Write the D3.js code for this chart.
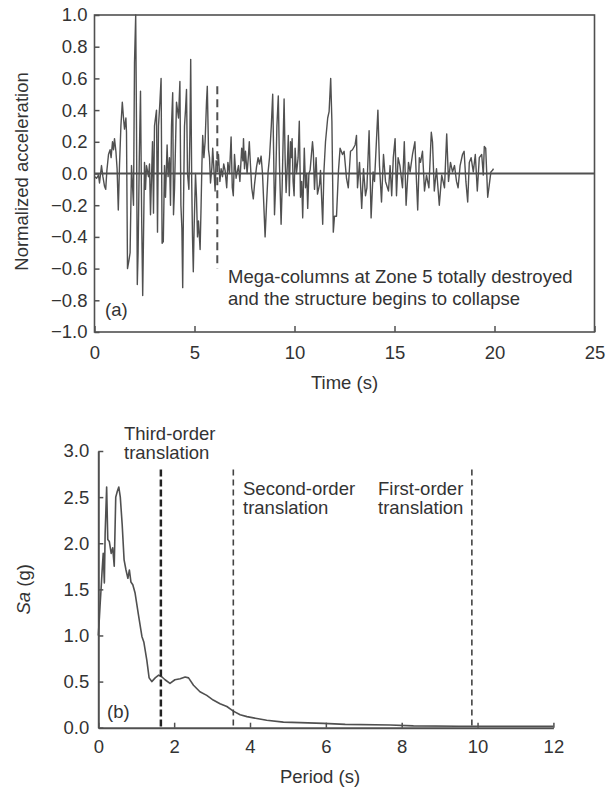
<!DOCTYPE html>
<html lang="en">
<head>
  <meta charset="UTF-8">
  <script src="https://cdn.jsdelivr.net/npm/d3@7"></script>
  <title>Time history and response spectrum</title>
  <style>
    body { margin: 0; background: #fff; }
    text { font-family: "Liberation Sans", Arial, sans-serif; fill: #333; }
  </style>
</head>
<body>
  <svg width="611" height="789"></svg>
  <script>
    // (a) normalized acceleration time history
    var accelT = [0.0,0.1,0.2,0.25,0.35,0.42,0.5,0.56,0.62,0.7,0.78,0.83,0.9,0.95,1.0,1.07,1.13,1.19,1.25,1.32,1.39,1.45,1.5,1.57,1.6,1.65,1.72,1.78,1.85,1.95,2.0,2.06,2.1,2.14,2.18,2.24,2.3,2.36,2.41,2.45,2.5,2.55,2.6,2.7,2.75,2.8,2.9,2.95,3.0,3.1,3.15,3.2,3.27,3.33,3.38,3.44,3.5,3.55,3.63,3.68,3.75,3.8,3.85,3.91,3.95,4.0,4.1,4.2,4.27,4.32,4.37,4.41,4.45,4.5,4.55,4.6,4.65,4.72,4.77,4.81,4.86,4.9,4.94,4.98,5.05,5.1,5.15,5.2,5.28,5.33,5.37,5.41,5.47,5.53,5.6,5.64,5.7,5.75,5.8,5.87,5.91,5.96,6.03,6.08,6.15,6.2,6.27,6.33,6.4,6.46,6.53,6.61,6.67,6.75,6.83,6.89,6.94,7.0,7.08,7.12,7.2,7.27,7.36,7.42,7.45,7.5,7.55,7.63,7.7,7.74,7.8,7.86,7.94,8.0,8.1,8.18,8.25,8.33,8.4,8.45,8.53,8.6,8.68,8.75,8.84,8.91,8.96,9.0,9.05,9.12,9.19,9.25,9.33,9.38,9.43,9.48,9.53,9.58,9.64,9.69,9.74,9.8,9.85,9.88,9.93,9.98,10.03,10.1,10.18,10.24,10.3,10.36,10.41,10.49,10.55,10.61,10.66,10.72,10.78,10.9,10.94,11.0,11.08,11.15,11.25,11.3,11.41,11.47,11.55,11.66,11.73,11.81,11.87,11.94,12.0,12.1,12.2,12.28,12.4,12.48,12.6,12.69,12.8,12.9,13.03,13.1,13.15,13.25,13.36,13.45,13.55,13.62,13.73,13.83,13.93,14.0,14.17,14.25,14.35,14.45,14.55,14.7,14.78,14.86,14.94,15.03,15.1,15.18,15.27,15.4,15.49,15.58,15.7,15.78,15.9,16.02,16.1,16.16,16.24,16.3,16.4,16.5,16.6,16.72,16.84,16.9,16.99,17.1,17.24,17.36,17.5,17.61,17.7,17.8,17.9,18.0,18.1,18.18,18.28,18.4,18.48,18.57,18.66,18.74,18.83,18.94,19.04,19.14,19.24,19.36,19.44,19.49,19.56,19.66,19.74,19.82,19.9,19.95];
    var accelV = [-0.02,-0.03,-0.01,-0.06,0.05,-0.02,-0.08,-0.1,0.02,0.12,0.15,0.1,0.2,0.15,0.22,0.14,0.03,-0.23,0.05,0.3,0.45,0.35,0.28,0.35,0.26,-0.6,-0.55,-0.5,0.05,-0.2,0.7,1.0,0.3,-0.7,-0.5,0.1,0.52,-0.3,-0.77,-0.4,0.07,-0.1,0.05,-0.02,0.06,-0.26,0.2,-0.25,0.3,0.4,-0.37,0.3,0.45,0.6,-0.44,-0.43,0.05,-0.15,0.18,-0.02,0.1,-0.2,0.3,0.51,-0.26,-0.1,0.45,0.35,0.58,-0.2,-0.35,-0.72,-0.2,0.3,0.4,0.53,0.0,-0.1,0.25,0.72,-0.05,-0.4,-0.62,-0.35,0.0,-0.15,-0.4,-0.3,-0.48,-0.2,0.05,0.24,0.1,0.2,0.45,0.55,0.15,0.1,-0.06,0.04,0.16,0.05,-0.11,0.08,0.05,0.12,-0.05,0.03,-0.02,0.06,0.02,-0.09,0.07,0.0,0.23,-0.09,-0.14,0.12,-0.03,0.0,0.05,-0.05,0.16,0.08,0.22,0.03,0.14,0.0,0.12,0.2,0.05,-0.09,-0.16,-0.07,0.04,0.1,0.06,0.11,0.0,-0.15,-0.4,-0.2,0.01,0.1,0.3,0.5,0.1,-0.26,-0.1,0.3,0.49,0.05,-0.32,-0.1,0.2,0.47,0.1,-0.12,0.05,0.24,-0.14,0.2,0.1,0.22,-0.05,-0.14,0.16,0.0,0.1,0.33,-0.15,-0.05,-0.28,0.16,-0.09,0.0,-0.22,0.0,0.02,0.2,0.14,-0.1,0.1,-0.13,-0.07,0.02,-0.32,0.01,0.2,0.35,0.39,0.6,0.33,-0.37,-0.27,-0.27,0.02,0.16,0.12,0.14,-0.03,-0.09,0.14,0.15,0.18,0.24,-0.09,0.07,-0.22,0.03,-0.14,-0.09,0.27,-0.28,0.01,-0.05,0.4,0.05,-0.18,0.12,-0.05,-0.11,0.05,-0.14,0.1,0.22,-0.14,0.1,0.05,-0.09,0.2,-0.2,0.07,0.01,0.12,0.2,-0.05,-0.23,0.1,0.07,0.14,-0.11,-0.01,-0.09,0.26,0.2,-0.11,0.03,-0.2,-0.01,-0.09,0.25,-0.05,0.07,0.01,0.05,-0.05,-0.09,0.05,0.12,0.14,-0.05,-0.18,0.07,0.1,0.01,0.12,-0.11,0.1,0.12,-0.01,0.17,0.16,-0.15,-0.07,0.01,0.02,0.03];
    var timeTicks = [0, 5, 10, 15, 20, 25];
    var accelTicks = [-1.0, -0.8, -0.6, -0.4, -0.2, 0.0, 0.2, 0.4, 0.6, 0.8, 1.0];
    var collapseTime = 6.14;
    var collapseNote = ["Mega-columns at Zone 5 totally destroyed", "and the structure begins to collapse"];

    // (b) acceleration response spectrum
    var periodT = [0,0.03,0.05,0.08,0.1,0.13,0.16,0.18,0.22,0.25,0.29,0.34,0.38,0.42,0.46,0.5,0.54,0.58,0.63,0.68,0.73,0.78,0.82,0.86,0.91,0.97,1.06,1.15,1.2,1.28,1.34,1.41,1.5,1.59,1.68,1.76,1.89,2.02,2.16,2.29,2.38,2.51,2.68,2.86,3.03,3.21,3.39,3.56,3.74,3.92,4.18,4.44,4.88,5.32,5.94,6.51,7.7,8.31,9.5,12];
    var spectrumSa = [1.0,1.2,1.35,1.55,1.7,1.89,1.57,2.1,2.61,2.04,2.02,1.89,1.95,1.75,2.5,2.56,2.61,2.5,2.2,1.82,1.71,1.62,1.71,1.58,1.55,1.46,1.22,0.99,0.93,0.73,0.54,0.5,0.54,0.57,0.55,0.52,0.48,0.52,0.53,0.55,0.54,0.46,0.39,0.35,0.3,0.26,0.23,0.18,0.14,0.12,0.1,0.08,0.06,0.055,0.047,0.036,0.03,0.02,0.015,0.015];
    var periodTicks = [0, 2, 4, 6, 8, 10, 12];
    var saTicks = [0.0, 0.5, 1.0, 1.5, 2.0, 2.5, 3.0];
    var modePeriods = [1.65, 3.56, 9.85];
    var modeNames = [["Third-order", "translation"], ["Second-order", "translation"], ["First-order", "translation"]];

    var svg = d3.select("svg");
    var ink = "#505050";
    var fs = 18.5;

    // ---------- top panel ----------
    var x1 = d3.scaleLinear().domain([0, 25]).range([94.5, 594.5]);
    var y1 = d3.scaleLinear().domain([-1, 1]).range([332, 15]);
    var g1 = svg.append("g");

    g1.append("rect")
      .attr("x", x1(0)).attr("y", y1(1))
      .attr("width", x1(25) - x1(0)).attr("height", y1(-1) - y1(1))
      .attr("fill", "none").attr("stroke", ink).attr("stroke-width", 1.6);

    var ax1 = g1.append("g")
      .attr("transform", "translate(0," + y1(-1) + ")")
      .call(d3.axisBottom(x1).tickValues(timeTicks).tickFormat(d3.format("d"))
        .tickSizeInner(-6).tickSizeOuter(0).tickPadding(14));
    var ay1 = g1.append("g")
      .attr("transform", "translate(" + x1(0) + ",0)")
      .call(d3.axisLeft(y1).tickValues(accelTicks).tickFormat(d3.format(".1f"))
        .tickSizeInner(-5).tickSizeOuter(0).tickPadding(7));
    [ax1, ay1].forEach(function (a) {
      a.select(".domain").remove();
      a.selectAll("line").attr("stroke", ink).attr("stroke-width", 1.5);
      a.selectAll("text").attr("font-size", fs).attr("fill", "#333");
    });

    // zero line
    g1.append("line")
      .attr("x1", x1(0)).attr("x2", x1(25))
      .attr("y1", y1(0)).attr("y2", y1(0))
      .attr("stroke", ink).attr("stroke-width", 2);

    g1.append("path")
      .datum(d3.zip(accelT, accelV))
      .attr("fill", "none").attr("stroke", ink).attr("stroke-width", 1.4)
      .attr("stroke-linejoin", "round")
      .attr("d", d3.line().x(d => x1(d[0])).y(d => y1(d[1])));

    g1.append("line")
      .attr("x1", x1(collapseTime)).attr("x2", x1(collapseTime))
      .attr("y1", y1(0.55)).attr("y2", y1(-0.6))
      .attr("stroke", ink).attr("stroke-width", 2).attr("stroke-dasharray", "8,5");

    g1.selectAll(".note").data(collapseNote).enter().append("text")
      .attr("x", 228).attr("y", (d, i) => 283 + i * 22)
      .attr("font-size", fs).text(d => d);

    g1.append("text").attr("x", 105).attr("y", 316).attr("font-size", fs).text("(a)");

    g1.append("text")
      .attr("x", (x1(0) + x1(25)) / 2).attr("y", 389)
      .attr("text-anchor", "middle").attr("font-size", fs).text("Time (s)");
    g1.append("text")
      .attr("transform", "translate(28," + ((y1(1) + y1(-1)) / 2 - 2) + ") rotate(-90)")
      .attr("text-anchor", "middle").attr("font-size", fs).text("Normalized acceleration");

    // ---------- bottom panel ----------
    var x2 = d3.scaleLinear().domain([0, 12]).range([98.3, 553.4]);
    var y2 = d3.scaleLinear().domain([0, 3]).range([727.7, 451]);
    var g2 = svg.append("g");

    var ax2 = g2.append("g")
      .attr("transform", "translate(0," + y2(0) + ")")
      .call(d3.axisBottom(x2).tickValues(periodTicks).tickFormat(d3.format("d"))
        .tickSizeInner(-5).tickSizeOuter(0).tickPadding(12));
    var ay2 = g2.append("g")
      .attr("transform", "translate(" + x2(0) + ",0)")
      .call(d3.axisLeft(y2).tickValues(saTicks).tickFormat(d3.format(".1f"))
        .tickSizeInner(-5).tickSizeOuter(0).tickPadding(9));
    [ax2, ay2].forEach(function (a) {
      a.select(".domain").attr("stroke", ink).attr("stroke-width", 2);
      a.selectAll("line").attr("stroke", ink).attr("stroke-width", 1.5);
      a.selectAll("text").attr("font-size", fs).attr("fill", "#333");
    });

    g2.append("path")
      .datum(d3.zip(periodT, spectrumSa))
      .attr("fill", "none").attr("stroke", ink).attr("stroke-width", 1.6)
      .attr("stroke-linejoin", "round")
      .attr("d", d3.line().x(d => x2(d[0])).y(d => y2(d[1])));

    g2.selectAll(".mode").data(modePeriods).enter().append("line")
      .attr("x1", d => x2(d)).attr("x2", d => x2(d))
      .attr("y1", y2(2.8)).attr("y2", y2(0))
      .attr("stroke", (d, i) => i === 0 ? "#222" : "#444")
      .attr("stroke-width", (d, i) => i === 0 ? 2.5 : 1.6)
      .attr("stroke-dasharray", (d, i) => i === 0 ? "7,3" : "6,4");

    var labelPos = [[124, 440], [243, 495], [378, 495]];
    modeNames.forEach(function (lines, k) {
      lines.forEach(function (s, i) {
        g2.append("text")
          .attr("x", labelPos[k][0]).attr("y", labelPos[k][1] + i * 19)
          .attr("font-size", fs).text(s);
      });
    });

    g2.append("text").attr("x", 107).attr("y", 718).attr("font-size", fs).text("(b)");

    g2.append("text")
      .attr("x", 320).attr("y", 783)
      .attr("text-anchor", "middle").attr("font-size", fs).text("Period (s)");
    var saLabel = g2.append("text")
      .attr("transform", "translate(30," + ((y2(0) + y2(3)) / 2) + ") rotate(-90)")
      .attr("text-anchor", "middle").attr("font-size", fs);
    saLabel.append("tspan").attr("font-style", "italic").text("Sa");
    saLabel.append("tspan").text(" (g)");
  </script>
</body>
</html>
